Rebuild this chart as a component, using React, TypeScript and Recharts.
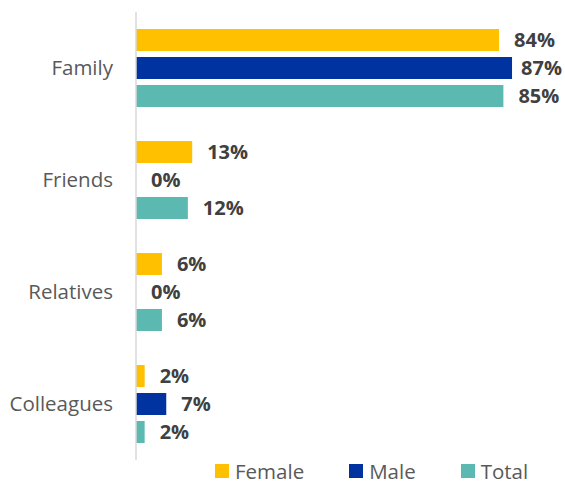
import React from "react"
import { BarChart, Bar, XAxis, YAxis, Legend, LabelList } from "recharts"

// categories and values (percent)
const categories = ["Family", "Friends", "Relatives", "Colleagues"]
const female = [84, 13, 6, 2]
const male = [87, 0, 0, 7]
const total = [85, 12, 6, 2]

const seriesNames = ["Female", "Male", "Total"]
const seriesColors = ["#FFC000", "#0033A0", "#5CB9B1"]

const data = categories.map((name, i) => ({
  name,
  Female: female[i],
  Male: male[i],
  Total: total[i],
}))

const FONT = "'Open Sans', 'Noto Sans', sans-serif"
const RIGHT_LIMIT = 562

const renderLegend = () => (
  <div style={{ display: "flex", justifyContent: "flex-start", paddingLeft: 215, paddingTop: 2, fontFamily: FONT }}>
    {seriesNames.map((n, i) => (
      <div key={n} style={{ display: "flex", alignItems: "center", marginRight: 45 }}>
        <span style={{ width: 14, height: 14, background: seriesColors[i], display: "inline-block", marginRight: 6 }} />
        <span style={{ fontSize: 20.5, color: "#595959", lineHeight: "18px" }}>{n}</span>
      </div>
    ))}
  </div>
)

// value label outside the bar end, pulled back in when it would run off the chart
const ValueLabel = (props: any) => {
  const { x, y, width, height, value } = props
  const text = `${value}%`
  const approxW = text.length * 14
  let lx = Number(x) + Number(width) + 15
  let anchor: "start" | "end" = "start"
  if (lx + approxW > RIGHT_LIMIT) {
    lx = RIGHT_LIMIT
    anchor = "end"
  }
  return (
    <text
      x={lx}
      y={Number(y) + Number(height) / 2}
      dy="0.355em"
      textAnchor={anchor}
      fill="#404040"
      fontSize={20}
      fontWeight={700}
      fontFamily={FONT}
    >
      {text}
    </text>
  )
}

const App = () => {
  return (
    <div style={{ position: "absolute", left: 0, top: 0 }}>
      <BarChart
        width={565}
        height={485}
        data={data}
        layout="vertical"
        margin={{ top: 12, right: 40, bottom: 0, left: 0 }}
        barCategoryGap={17}
        barGap={6}
      >
        <XAxis type="number" domain={[0, 90]} hide />
        <YAxis
          type="category"
          dataKey="name"
          width={136}
          axisLine={{ stroke: "#D9D9D9", strokeWidth: 1.5 }}
          tickLine={false}
          tickSize={0}
          tickMargin={23}
          tick={{ fill: "#595959", fontSize: 20.5, fontFamily: FONT }}
        />
        <Legend verticalAlign="bottom" height={25} content={renderLegend} />
        {seriesNames.map((n, i) => (
          <Bar key={n} dataKey={n} fill={seriesColors[i]} barSize={22} minPointSize={0.01} isAnimationActive={false}>
            <LabelList dataKey={n} content={ValueLabel} />
          </Bar>
        ))}
      </BarChart>
    </div>
  )
}

export default App
